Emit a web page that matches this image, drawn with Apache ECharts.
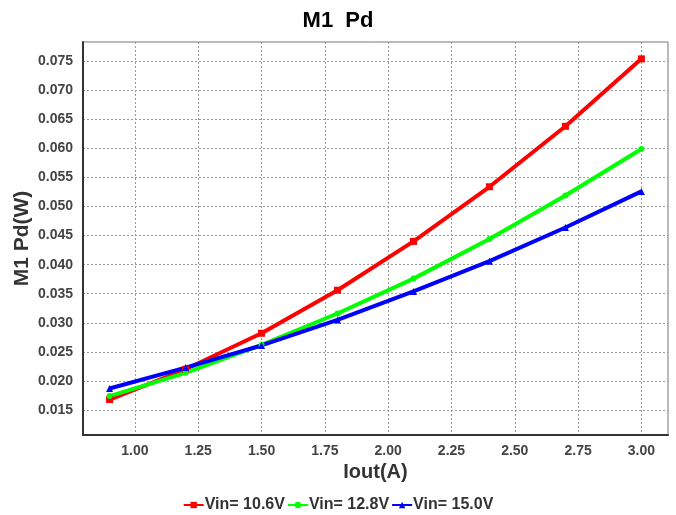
<!DOCTYPE html>
<html><head><meta charset="utf-8">
<script src="https://cdn.jsdelivr.net/npm/echarts@6/dist/echarts.min.js"></script>
<style>html,body{margin:0;padding:0;background:#fff}#c{width:676px;height:515px}</style>
</head><body><div id="c"></div>
<script>
const iout = [0.9, 1.2, 1.5, 1.8, 2.1, 2.4, 2.7, 3.0];
const pd106 = [0.0168, 0.0220, 0.0282, 0.0356, 0.0440, 0.0534, 0.0638, 0.0754];
const pd128 = [0.0174, 0.0214, 0.0262, 0.0316, 0.0376, 0.0444, 0.0519, 0.0599];
const pd150 = [0.0187, 0.0223, 0.0261, 0.0305, 0.0354, 0.0406, 0.0464, 0.0526];
const seriesNames = ['Vin= 10.6V', 'Vin= 12.8V', 'Vin= 15.0V'];
const xTicks = [1.00, 1.25, 1.50, 1.75, 2.00, 2.25, 2.50, 2.75, 3.00];
const yTicks = [0.015, 0.020, 0.025, 0.030, 0.035, 0.040, 0.045, 0.050, 0.055, 0.060, 0.065, 0.070, 0.075];

const FF = '"Liberation Sans", Arial, sans-serif';
const pair = a => iout.map((x, i) => [x, a[i]]);
const chart = echarts.init(document.getElementById('c'), null, {renderer: 'canvas'});
const mk = (name, data, color, symbol, size) => ({
  name, type: 'line', data: pair(data), symbol, symbolSize: size,
  lineStyle: {color, width: 4}, itemStyle: {color}, showSymbol: true, animation: false
});
chart.setOption({
  animation: false,
  title: {text: 'M1  Pd', left: 'center', top: 5,
    textStyle: {fontFamily: FF, fontSize: 22, fontWeight: 'bold', color: '#000'}},
  grid: {left: 83, right: 8, top: 42, bottom: 80, show: true, borderColor: '#777', borderWidth: 1,
    outerBoundsMode: 'none', containLabel: false},
  legend: {top: 492, left: 'center', itemGap: 2, itemWidth: 20, itemHeight: 8,
    textStyle: {fontFamily: FF, fontSize: 16, fontWeight: 'bold', color: '#333', padding: [0,0,0,-4]},
    data: seriesNames},
  xAxis: {type: 'value', min: 0.795, max: 3.105,
    name: 'Iout(A)', nameLocation: 'middle', nameGap: 26,
    nameTextStyle: {fontFamily: FF, fontSize: 20, fontWeight: 'bold', color: '#333'},
    axisLine: {show: true, lineStyle: {color: '#333', width: 2}},
    axisTick: {show: false, customValues: xTicks},
    axisLabel: {customValues: xTicks, margin: 9, fontFamily: FF, fontSize: 14, fontWeight: 'bold', color: '#444',
      formatter: v => v.toFixed(2)},
    splitLine: {show: true, lineStyle: {color: '#999', type: [2, 2], width: 1}}},
  yAxis: {type: 'value', min: 0.0107, max: 0.0783,
    name: 'M1 Pd(W)', nameLocation: 'middle', nameGap: 50, nameMoveOverlap: false,
    nameTextStyle: {fontFamily: FF, fontSize: 21, fontWeight: 'bold', color: '#333'},
    axisLine: {show: true, lineStyle: {color: '#333', width: 2}},
    axisTick: {show: false, customValues: yTicks},
    axisLabel: {customValues: yTicks, margin: 10, fontFamily: FF, fontSize: 14, fontWeight: 'bold', color: '#444',
      formatter: v => v.toFixed(3)},
    splitLine: {show: true, lineStyle: {color: '#999', type: [2, 2], width: 1}}},
  series: [
    mk(seriesNames[0], pd106, '#ff0000', 'rect', 7),
    mk(seriesNames[1], pd128, '#00ff00', 'circle', 6),
    mk(seriesNames[2], pd150, '#0000ff', 'triangle', 7)
  ]
});
</script></body></html>
